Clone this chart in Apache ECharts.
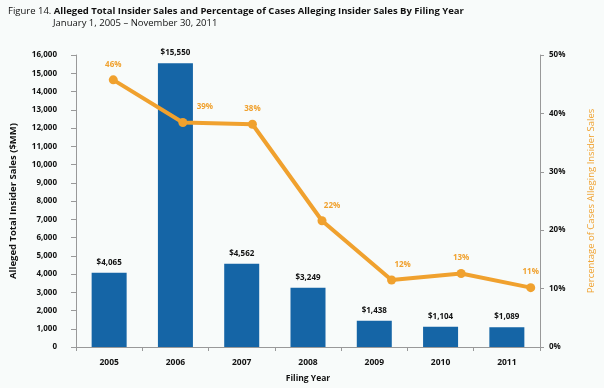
<!DOCTYPE html>
<html><head><meta charset="utf-8">
<script src="https://cdn.jsdelivr.net/npm/echarts@6/dist/echarts.min.js"></script>
<style>html,body{margin:0;padding:0;background:#f8fbfa}#c{width:604px;height:388px}</style>
</head><body><div id="c"></div>
<script>
const years = ['2005','2006','2007','2008','2009','2010','2011'];
const insiderSales = [4065, 15550, 4562, 3249, 1438, 1104, 1089];
const pctAlleging = [45.8, 38.6, 38.3, 22.0, 12.0, 13.1, 10.7];
const salesTicks = [0,1000,2000,3000,4000,5000,6000,7000,8000,9000,10000,11000,12000,13000,14000,15000,16000];

const FONT = 'Open Sans, Noto Sans, sans-serif';
const BLUE = '#1565a6';
const ORANGE = '#f0a12e';
const labelShift = [0, 22, 0, 10, 11, 0, 0];

const chart = echarts.init(document.getElementById('c'), null, {renderer:'canvas'});
chart.setOption({
  backgroundColor: '#f8fbfa',
  animation: false,
  title: [{
    left: 3, top: 1,
    text: '{a|Figure 14. }{b|Alleged Total Insider Sales and Percentage of Cases Alleging Insider Sales By Filing Year}',
    textStyle: {rich: {
      a: {fontFamily: FONT, fontSize: 9.5, fontWeight: 'normal', color: '#111'},
      b: {fontFamily: FONT, fontSize: 9.5, fontWeight: 'bold', color: '#111'}
    }}
  },{
    left: 48, top: 13,
    text: 'January 1, 2005 \u2013 November 30, 2011',
    textStyle: {fontFamily: FONT, fontSize: 9.5, fontWeight: 'normal', color: '#111'}
  }],
  grid: [
    {left: 68, right: 49, top: 55, bottom: 37},
    {left: 78.5, right: 38.5, top: 55, bottom: 37}
  ],
  xAxis: [{
    type: 'category', gridIndex: 0, data: years,
    name: 'Filing Year', nameLocation: 'middle', nameGap: 27,
    nameTextStyle: {fontFamily: FONT, fontSize: 8.5, fontWeight: 'bold', color: '#111'},
    axisLine: {lineStyle: {color: '#999'}},
    axisTick: {show: true, length: 4, lineStyle: {color: '#999'}},
    axisLabel: {fontFamily: FONT, fontSize: 8.5, fontWeight: 'bold', color: '#111', margin: 11}
  },{
    type: 'category', gridIndex: 1, data: years, show: false
  }],
  yAxis: [{
    type: 'value', gridIndex: 0, min: 0, max: 16000, interval: 1000,
    name: 'Alleged Total Insider Sales ($MM)', nameLocation: 'middle', nameGap: 58, nameRotate: 90,
    nameTextStyle: {fontFamily: FONT, fontSize: 9.5, fontWeight: 'bold', color: '#111'},
    axisLine: {show: true, lineStyle: {color: '#999'}},
    axisTick: {show: true, length: 5, lineStyle: {color: '#999'}},
    splitLine: {show: false},
    axisLabel: {fontFamily: FONT, fontSize: 8, fontWeight: 'bold', color: '#111', margin: 19,
      formatter: v => salesTicks.includes(v) ? v.toLocaleString('en-US') : ''}
  },{
    type: 'value', gridIndex: 0, min: 0, max: 50, interval: 10, position: 'right',
    name: 'Percentage of Cases Alleging Insider Sales', nameLocation: 'middle', nameGap: 46, nameRotate: 90,
    nameTextStyle: {fontFamily: FONT, fontSize: 9.5, color: ORANGE},
    axisLine: {show: true, lineStyle: {color: '#999'}},
    axisTick: {show: true, length: 4, inside: false, lineStyle: {color: '#999'}},
    splitLine: {show: false},
    axisLabel: {fontFamily: FONT, fontSize: 8, fontWeight: 'bold', color: '#111', margin: 9, formatter: '{value}%'}
  },{
    type: 'value', gridIndex: 1, min: 0, max: 50, show: false
  }],
  series: [{
    type: 'bar', xAxisIndex: 0, yAxisIndex: 0, data: insiderSales, barWidth: 35,
    itemStyle: {color: BLUE},
    label: {show: true, position: 'top', distance: 6, fontFamily: FONT, fontSize: 8, fontWeight: 'bold', color: '#111',
      formatter: p => '$' + p.value.toLocaleString('en-US')}
  },{
    type: 'line', xAxisIndex: 1, yAxisIndex: 2,
    data: pctAlleging.map((v, i) => ({value: v, label: {offset: [labelShift[i], 0]}})),
    lineStyle: {color: ORANGE, width: 4}, itemStyle: {color: ORANGE},
    symbol: 'circle', symbolSize: 9,
    label: {show: true, position: 'top', distance: 7, fontFamily: FONT, fontSize: 8, fontWeight: 'bold', color: ORANGE,
      formatter: p => Math.round(p.value) + '%'}
  }]
});
</script></body></html>
